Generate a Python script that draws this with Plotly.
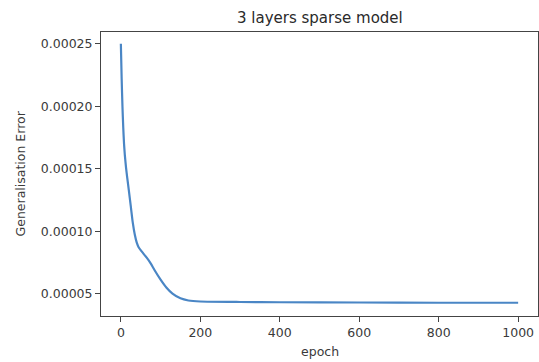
import plotly.graph_objects as go

epochs = [0, 2, 4, 6, 8, 10, 13, 16, 20, 25, 30, 35, 40, 45, 55, 65, 75, 85, 100, 115, 130, 150, 170, 200, 300, 400, 600, 800, 1000]
gen_error = [0.000250, 0.000222, 0.000200, 0.000183, 0.000170, 0.000161, 0.000151, 0.000143, 0.000133, 0.000120, 0.000107, 0.0000975, 0.0000910, 0.0000872, 0.0000830, 0.0000790, 0.0000745, 0.0000690, 0.0000615, 0.0000550, 0.0000503, 0.0000465, 0.0000448, 0.0000440, 0.0000436, 0.0000434, 0.0000432, 0.0000430, 0.0000430]

x_ticks = [0, 200, 400, 600, 800, 1000]
y_ticks = [0.00005, 0.00010, 0.00015, 0.00020, 0.00025]
y_tick_labels = ["0.00005", "0.00010", "0.00015", "0.00020", "0.00025"]

font_family = "DejaVu Sans"

fig = go.Figure()
fig.add_trace(go.Scatter(
    x=epochs, y=gen_error, mode="lines",
    line=dict(color="#4a86c5", width=2.2, shape="spline", smoothing=0.5),
    showlegend=False,
))

axis_common = dict(
    showgrid=False, zeroline=False, showline=True, linecolor="#444444", linewidth=1,
    mirror=True, ticks="outside", ticklen=5, tickwidth=1, tickcolor="#444444",
    tickfont=dict(family=font_family, size=12.5, color="#3a3a3a"),
)

fig.update_layout(
    width=539, height=362,
    margin=dict(l=101, r=1, t=32, b=46),
    paper_bgcolor="white", plot_bgcolor="white",
    font=dict(family=font_family, color="#333333"),
    xaxis=dict(range=[-50, 1050], tickvals=x_ticks, **axis_common),
    yaxis=dict(range=[0.0000324, 0.0002594], tickvals=y_ticks, ticktext=y_tick_labels, **axis_common),
    annotations=[
        dict(text="3 layers sparse model", x=0.5, y=1, xref="paper", yref="paper",
             xanchor="center", yanchor="bottom", yshift=3, showarrow=False,
             font=dict(family=font_family, size=15, color="#2a2a2a")),
        dict(text="epoch", x=0.5, y=0, xref="paper", yref="paper",
             xanchor="center", yanchor="top", yshift=-26, showarrow=False,
             font=dict(family=font_family, size=12.5, color="#3a3a3a")),
        dict(text="Generalisation Error", x=0, y=0.5, xref="paper", yref="paper",
             xanchor="right", yanchor="middle", xshift=-72, textangle=-90, showarrow=False,
             font=dict(family=font_family, size=12.5, color="#3a3a3a")),
    ],
)

fig.write_html("out.html")
